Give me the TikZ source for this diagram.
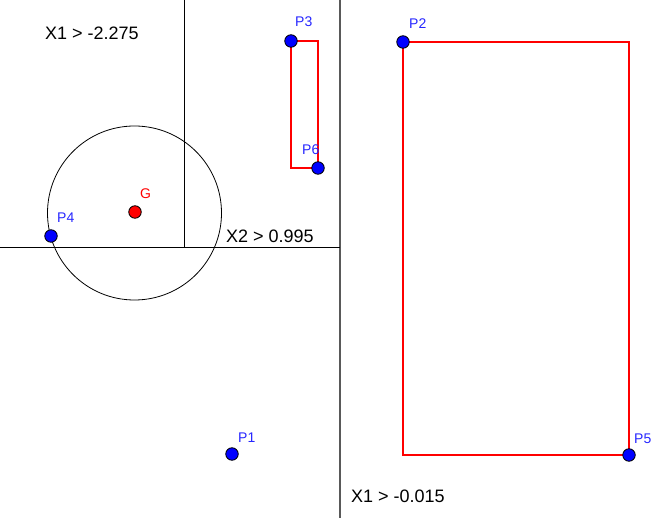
\documentclass[tikz,border=0pt]{standalone}
\usepackage{fontspec}
\setmainfont{Liberation Sans}
\begin{document}
\begin{tikzpicture}[x=1pt,y=-1pt,
  pt/.style={circle,draw=black,line width=0.8pt,fill=blue,inner sep=0pt,minimum size=12.5pt},
  gpt/.style={circle,draw=black,line width=0.8pt,fill=red,inner sep=0pt,minimum size=12.5pt},
  plab/.style={text=blue!85!white,font=\fontsize{14}{14}\selectfont,inner sep=0pt,anchor=base west},
  glab/.style={text=red,font=\fontsize{14}{14}\selectfont,inner sep=0pt,anchor=base west},
  cut/.style={font=\fontsize{18}{18}\selectfont,inner sep=0pt,anchor=base west},
  box/.style={draw=red,line width=1.2pt}]
\useasboundingbox (0,0) rectangle (666,518);
% split lines
\coordinate (vtop) at (340,0);
\coordinate (vbot) at (340,518);
\draw[gray!70!black,line width=1.4pt] (vtop) -- (vbot);
\coordinate (hl) at (0,247);
\coordinate (hr) at (340,247);
\draw[black,line width=0.8pt] (hl) -- (hr);
\coordinate (v2t) at (184,0);
\coordinate (v2b) at (184,247);
\draw[black,line width=0.8pt] (v2t) -- (v2b);
% circle
\coordinate (C) at (134.5,213);
\draw[black,line width=0.8pt] (C) circle (87);
% boxes
\draw[box] (291,41) rectangle (318,168);
\draw[box] (403,42) rectangle (629,455);
% points
\node[gpt] (G) at (135,212) {};
\node[pt] (P4) at (51,236) {};
\node[pt] (P3) at (291,41) {};
\node[pt] (P6) at (318,168) {};
\node[pt] (P2) at (403,42) {};
\node[pt] (P5) at (629,455) {};
\node[pt] (P1) at (232,454) {};
% point labels
\node[glab] (lG) at (140,199) {G};
\node[plab] (l4) at (57,223) {P4};
\node[plab] (l3) at (295,27) {P3};
\node[plab] (l6) at (302,155) {P6};
\node[plab] (l2) at (409,29) {P2};
\node[plab] (l5) at (634,443) {P5};
\node[plab] (l1) at (238,442) {P1};
% cut labels
\node[cut] (c1) at (45,40) {X1 > -2.275};
\node[cut] (c2) at (226,243) {X2 > 0.995};
\node[cut] (c3) at (351,502) {X1 > -0.015};
\end{tikzpicture}
\end{document}
